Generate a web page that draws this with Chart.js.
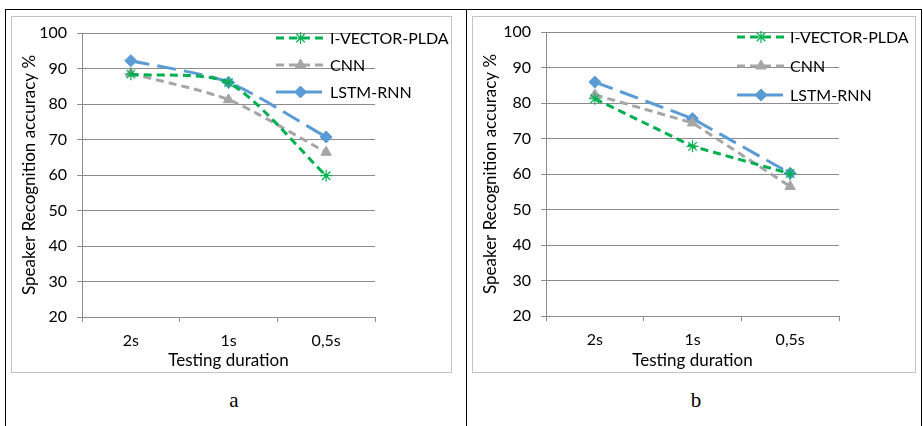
<!DOCTYPE html>
<html>
<head>
<meta charset="utf-8">
<script src="https://cdn.jsdelivr.net/npm/chart.js@4.4.0/dist/chart.umd.min.js"></script>
<style>
  html, body { margin:0; padding:0; background:#fff; }
  body { width:923px; height:426px; position:relative; overflow:hidden; }
  .abs { position:absolute; }
  .frame { position:absolute; border:1px solid #c4c4c4; box-sizing:border-box; }
  .cap { position:absolute; font-family:"Liberation Serif", serif; font-size:21px; color:#000; transform:translateX(-50%); }
  canvas { position:absolute; }
</style>
</head>
<body>
<!-- outer table lines -->
<div class="abs" style="left:5px;top:9px;width:917px;height:1px;background:#000"></div>
<div class="abs" style="left:5px;top:9px;width:1px;height:417px;background:#000"></div>
<div class="abs" style="left:466px;top:9px;width:1px;height:417px;background:#000"></div>
<div class="abs" style="left:921px;top:9px;width:1px;height:417px;background:#000"></div>

<div class="frame" style="left:11px;top:16px;width:441px;height:357px"></div>
<div class="frame" style="left:472px;top:16px;width:444px;height:357px"></div>

<canvas id="ca" width="439" height="355" style="left:12px;top:17px"></canvas>
<canvas id="cb" width="442" height="355" style="left:473px;top:17px"></canvas>

<div class="cap" style="left:234px;top:388px">a</div>
<div class="cap" style="left:696px;top:388px">b</div>

<script>
// ---- data ----
const categories = ['2s', '1s', '0,5s'];
const seriesNames = ['I-VECTOR-PLDA', 'CNN', 'LSTM-RNN'];
const yTickMin = 20, yTickMax = 100, yTickStep = 10;

const ivectorA = [88.4, 86.0, 59.8];
const cnnA     = [88.6, 81.2, 66.4];
const lstmA    = [92.2, 86.1, 70.7];

const ivectorB = [81.2, 67.8, 60.1];
const cnnB     = [82.3, 74.4, 56.5];
const lstmB    = [85.9, 75.6, 60.2];

const FONT = 'Lato, "Open Sans", sans-serif';

const legendPlugin = {
  id: 'excelLegend',
  afterDraw(chart, args, o) {
    const ctx = chart.ctx;
    chart.data.datasets.forEach((ds, i) => {
      const y = o.top + i * o.spacing;
      ctx.save();
      ctx.strokeStyle = ds.borderColor;
      ctx.lineWidth = ds.borderWidth;
      ctx.setLineDash(ds.borderDash || []);
      ctx.beginPath();
      ctx.moveTo(o.x1, y);
      ctx.lineTo(o.x2, y);
      ctx.stroke();
      ctx.setLineDash([]);
      ctx.fillStyle = ds.pointBackgroundColor;
      ctx.strokeStyle = ds.pointBorderColor;
      ctx.lineWidth = ds.pointBorderWidth;
      Chart.helpers.drawPoint(ctx, {
        pointStyle: ds.pointStyle, radius: ds.pointRadius,
        borderWidth: ds.pointBorderWidth, rotation: 0
      }, (o.x1 + o.x2) / 2, y);
      ctx.fillStyle = '#000';
      ctx.font = o.fontSize + 'px ' + FONT;
      ctx.textBaseline = 'middle';
      ctx.textAlign = 'left';
      ctx.fillText(seriesNames[i], o.textX, y + 1);
      ctx.restore();
    });
  }
};

function makeDatasets(iv, cn, ls, tension) {
  return [
    { label: seriesNames[0], data: iv, borderColor: '#00b050', borderWidth: 3,
      borderDash: [8, 5], pointStyle: 'star', pointRadius: 6,
      pointBackgroundColor: '#00b050', pointBorderColor: '#00b050', pointBorderWidth: 1.2,
      tension: tension, fill: false },
    { label: seriesNames[1], data: cn, borderColor: '#a6a6a6', borderWidth: 3,
      borderDash: [8, 5], pointStyle: 'triangle', pointRadius: 6,
      pointBackgroundColor: '#a6a6a6', pointBorderColor: '#a6a6a6', pointBorderWidth: 1,
      tension: tension, fill: false },
    { label: seriesNames[2], data: ls, borderColor: '#5b9bd5', borderWidth: 3,
      borderDash: [19, 8], pointStyle: 'rectRot', pointRadius: 6,
      pointBackgroundColor: '#5b9bd5', pointBorderColor: '#5b9bd5', pointBorderWidth: 1,
      tension: tension, fill: false }
  ];
}

function makeChart(id, datasets, geo) {
  return new Chart(document.getElementById(id), {
    type: 'line',
    data: { labels: categories, datasets: datasets },
    plugins: [legendPlugin],
    options: {
      responsive: false,
      animation: false,
      layout: { padding: { top: geo.top, right: geo.right, left: 0, bottom: 0 } },
      plugins: {
        legend: { display: false },
        tooltip: { enabled: false },
        excelLegend: geo.legend
      },
      scales: {
        x: {
          offset: true,
          grid: { offset: true, drawOnChartArea: false, color: '#8c8c8c', tickLength: 5, lineWidth: 1 },
          border: { color: '#8c8c8c', width: 1 },
          ticks: { color: '#000', font: { family: FONT, size: 16 }, padding: 9, maxRotation: 0 },
          title: { display: true, text: 'Testing duration', color: '#000',
                   font: { family: FONT, size: 17 }, padding: { top: 0, bottom: 1 } },
          afterFit(s) { s.height = geo.xh; }
        },
        y: {
          min: yTickMin, max: yTickMax,
          ticks: { stepSize: yTickStep, color: '#000', font: { family: FONT, size: 16 }, padding: 10 },
          grid: { color: '#8c8c8c', tickLength: 5, lineWidth: 1 },
          border: { color: '#8c8c8c', width: 1 },
          title: { display: true, text: 'Speaker Recognition accuracy %', color: '#000',
                   font: { family: FONT, size: 17 }, padding: { top: 7, bottom: 0 } },
          afterFit(s) { s.width = geo.yw; s.paddingTop = 0; s.paddingBottom = 0; }
        }
      }
    }
  });
}

makeChart('ca', makeDatasets(ivectorA, cnnA, lstmA, 0.25), {
  top: 16, right: 439 - 363, yw: 70, xh: 55,
  legend: { x1: 264, x2: 313, textX: 318, top: 21, spacing: 27, fontSize: 16 }
});
makeChart('cb', makeDatasets(ivectorB, cnnB, lstmB, 0), {
  top: 15, right: 442 - 366, yw: 73, xh: 56,
  legend: { x1: 264, x2: 312, textX: 317, top: 20, spacing: 29, fontSize: 16 }
});
</script>
</body>
</html>
